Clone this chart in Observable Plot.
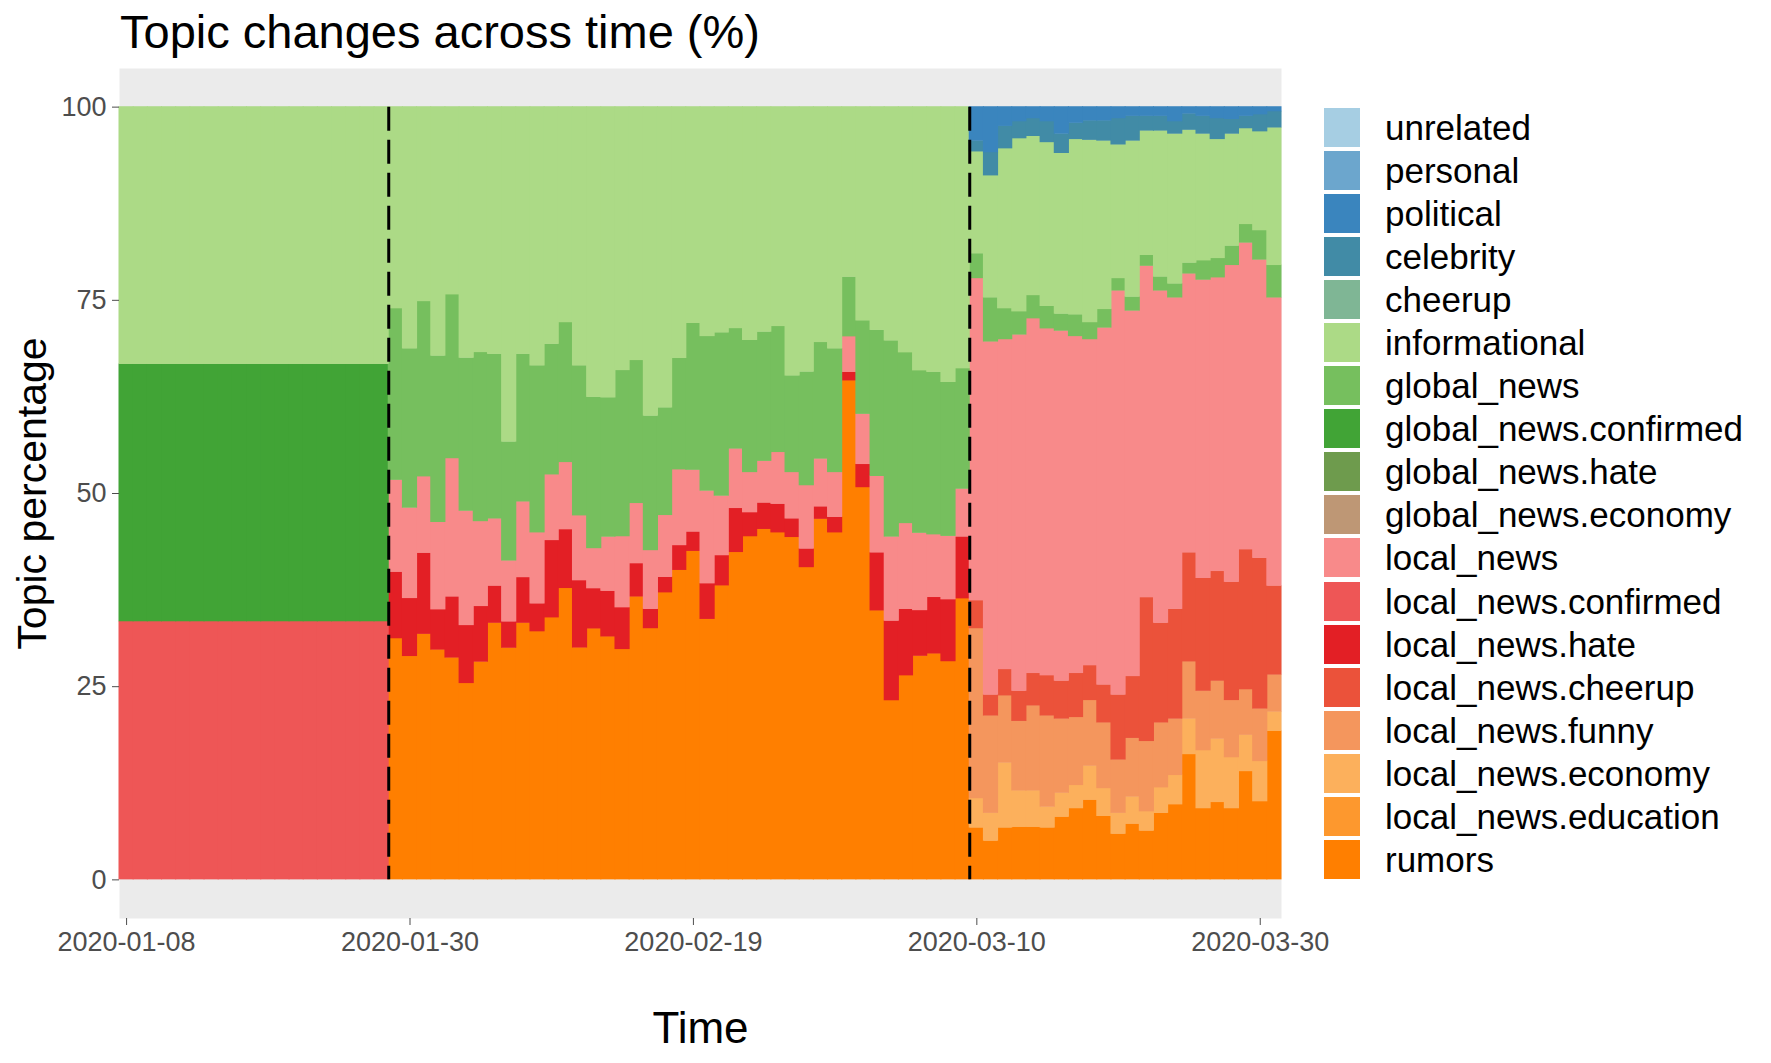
<!DOCTYPE html>
<html>
<head>
<meta charset="utf-8">
<script src="https://cdn.jsdelivr.net/npm/d3@7"></script>
<script src="https://cdn.jsdelivr.net/npm/@observablehq/plot@0.6"></script>
<style>
  body { margin: 0; background: #fff; font-family: "Liberation Sans", Arial, sans-serif; }
  #wrap { position: relative; width: 1771px; height: 1063px; overflow: hidden; background: #fff; }
  #title { position: absolute; left: 120px; top: 4px; font-size: 47px; line-height: 56px; color: #000; white-space: nowrap; }
  #chart { position: absolute; left: 0; top: 62px; }
  #legend { position: absolute; left: 1324px; top: 105.5px; }
  .row { display: flex; align-items: center; height: 43.1px; }
  .sw { width: 36px; height: 39px; }
  .lab { margin-left: 25px; font-size: 35px; color: #000; white-space: nowrap; line-height: 1; }
</style>
</head>
<body>
<div id="wrap">
  <div id="title">Topic changes across time (%)</div>
  <div id="chart"></div>
  <div id="legend"></div>
</div>
<script>
// ---- categories (legend order: top of stack first) ----
const topics = ["unrelated","personal","political","celebrity","cheerup","informational",
  "global_news","global_news.confirmed","global_news.hate","global_news.economy",
  "local_news","local_news.confirmed","local_news.hate","local_news.cheerup",
  "local_news.funny","local_news.economy","local_news.education","rumors"];
const colors = ["#A6CEE3","#6CA6CD","#3A85BE","#418BA6","#7FB695","#ACDA86",
  "#76BF5E","#41A436","#6E9B4D","#BE9775",
  "#F88A8A","#EE5656","#E31F25","#EB523A",
  "#F4965D","#FCB05C","#FD982E","#FF7F00"];

// ---- x categories ----
const seg1Dates = ["2020-01-08","2020-01-09","2020-01-10","2020-01-11","2020-01-13","2020-01-14",
  "2020-01-15","2020-01-16","2020-01-17","2020-01-18","2020-01-20","2020-01-21","2020-01-22",
  "2020-01-23","2020-01-24","2020-01-25","2020-01-26","2020-01-27","2020-01-28"];
const seg2Start = "2020-01-29", seg2Count = 41;
const seg3Start = "2020-03-10", seg3Count = 22;
const xTickLabels = ["2020-01-08","2020-01-30","2020-02-19","2020-03-10","2020-03-30"];
const yTicks = [0, 25, 50, 75, 100];

// ---- segment 1 values (%) ----
const seg1 = {
  "informational":         [33.3,33.3,33.3,33.3,33.3,33.3,33.3,33.3,33.3,33.3,33.3,33.3,33.3,33.3,33.3,33.3,33.3,33.3,33.3],
  "global_news.confirmed": [33.3,33.3,33.3,33.3,33.3,33.3,33.3,33.3,33.3,33.3,33.3,33.3,33.3,33.3,33.3,33.3,33.3,33.3,33.3],
  "local_news.confirmed":  [33.4,33.4,33.4,33.4,33.4,33.4,33.4,33.4,33.4,33.4,33.4,33.4,33.4,33.4,33.4,33.4,33.4,33.4,33.4]
};
// ---- segment 2 values (%) ----
const seg2Rumors = [31.2,28.9,31.8,29.7,28.7,25.4,28.2,33.2,30.0,33.2,32.1,33.9,37.7,30.0,32.5,31.4,29.8,36.6,32.5,37.1,40.0,42.5,33.7,38.0,42.4,44.4,45.3,44.9,44.3,40.4,46.7,44.9,64.5,50.8,34.8,23.2,26.4,28.9,29.2,28.2,36.4];
const seg2Hate   = [8.6,7.5,10.5,5.2,7.9,7.5,7.2,4.8,3.4,5.9,3.6,10.0,7.6,8.7,5.2,5.9,5.4,4.3,2.5,2.0,3.2,2.5,4.6,3.9,5.7,3.1,3.4,3.7,2.4,2.4,1.6,2.0,1.1,3.0,7.5,10.3,8.6,5.9,7.3,8.0,8.0];
const seg2Local  = [11.9,11.7,9.9,11.3,17.9,14.8,11.0,8.7,7.9,9.8,9.2,8.5,8.7,8.4,5.2,7.0,9.2,7.8,7.6,8.0,9.8,8.0,12.0,7.7,7.7,5.2,5.4,6.7,6.0,8.2,6.2,5.8,4.6,6.5,9.9,10.9,11.1,10.0,8.1,8.2,6.2];
const seg2Global = [22.2,20.6,22.7,21.5,21.2,19.8,21.9,21.3,15.4,19.1,21.6,16.9,18.1,19.4,19.6,18.0,21.5,18.5,17.4,13.9,14.4,19.0,20.0,21.1,15.6,17.1,16.7,16.3,12.5,14.7,15.1,16.0,7.7,12.1,18.9,25.4,22.1,21.0,21.0,19.9,15.6];
const seg2Info   = [26.1,31.3,25.2,32.2,24.3,32.5,31.8,32.0,43.4,32.0,33.5,30.7,27.9,33.5,37.6,37.6,34.1,32.8,40.0,38.9,32.5,28.0,29.7,29.2,28.7,30.2,29.1,28.4,34.8,34.3,30.5,31.3,22.0,27.7,28.9,30.3,31.8,34.1,34.3,35.6,33.9];
// ---- segment 3 values (%) ----
const seg3Rumors    = [6.7,5.0,6.7,6.8,6.8,6.7,8.1,9.2,10.3,8.2,5.9,7.2,6.3,8.6,9.7,16.2,9.2,10.0,9.2,14.0,10.1,19.2];
const seg3Economy   = [3.8,3.6,8.4,4.7,4.7,2.7,3.1,3.0,4.4,3.6,2.7,3.5,2.5,3.3,3.8,4.6,7.5,8.2,6.6,4.7,5.2,2.5];
const seg3Funny     = [22.0,12.6,8.7,9.0,11.0,11.8,9.6,8.8,8.5,8.5,6.9,7.6,9.1,8.4,7.3,7.4,7.7,7.5,7.4,5.9,6.8,4.8];
const seg3Cheerup   = [3.6,2.7,3.4,3.9,4.2,5.2,4.9,5.7,4.5,4.9,8.4,8.0,18.6,12.9,14.2,14.1,14.6,14.2,15.3,18.1,19.5,11.5];
const seg3Local     = [41.7,45.7,42.7,46.1,45.9,44.9,45.3,43.6,42.2,46.2,52.3,47.3,42.9,43.0,40.3,36.1,38.6,38.0,41.0,39.7,38.6,37.3];
const seg3Global    = [3.2,5.7,4.0,3.0,3.0,2.9,2.2,2.8,2.2,2.4,1.6,1.8,1.4,1.8,1.8,1.4,2.5,2.5,2.5,2.4,3.8,4.2];
const seg3Info      = [13.2,15.8,20.7,22.4,20.6,21.2,20.8,22.7,23.6,21.8,17.3,20.2,16.1,18.9,19.4,17.2,16.4,15.4,14.5,12.4,12.8,17.8];
const seg3Celebrity = [1.4,3.0,2.9,2.2,2.3,2.7,2.5,2.1,2.5,2.6,3.4,3.2,1.9,1.9,1.6,2.1,2.3,2.7,1.9,1.6,2.2,2.1];
const seg3Political = [4.4,5.9,2.5,1.9,1.5,1.9,3.5,2.1,1.8,1.8,1.5,1.2,1.2,1.2,1.9,0.9,1.2,1.5,1.6,1.2,1.0,0.6];

// ---- build table ----
const fmt = d3.utcFormat("%Y-%m-%d");
const dayList = (start, n) => d3.utcDay.range(new Date(start + "T00:00Z"), d3.utcDay.offset(new Date(start + "T00:00Z"), n)).map(fmt);
const seg2Dates = dayList(seg2Start, seg2Count);
const seg3Dates = dayList(seg3Start, seg3Count);
const allDates = [...seg1Dates, ...seg2Dates, ...seg3Dates];
const boundaries = [seg2Dates[0], seg3Dates[0]];

const seg2 = {"rumors": seg2Rumors, "local_news.hate": seg2Hate, "local_news": seg2Local, "global_news": seg2Global, "informational": seg2Info};
const seg3 = {"rumors": seg3Rumors, "local_news.economy": seg3Economy, "local_news.funny": seg3Funny, "local_news.cheerup": seg3Cheerup,
  "local_news": seg3Local, "global_news": seg3Global, "informational": seg3Info, "celebrity": seg3Celebrity, "political": seg3Political};

const rows = [];
for (const [dates, seg] of [[seg1Dates, seg1], [seg2Dates, seg2], [seg3Dates, seg3]]) {
  dates.forEach((date, i) => {
    for (const [topic, vals] of Object.entries(seg)) rows.push({date, topic, value: vals[i]});
  });
}
const rank = new Map(topics.map((t, i) => [t, topics.length - 1 - i]));
rows.sort((a, b) => rank.get(a.topic) - rank.get(b.topic));

// ---- plot (stack normalized to 0..1, axis labelled in %) ----
const W = 1290, H = 1001, ML = 119, MR = 9;
const bw = (W - ML - MR) / allDates.length;
const chart = Plot.plot({
  width: W, height: H,
  marginLeft: ML, marginRight: MR, marginTop: 6, marginBottom: 145,
  style: {fontFamily: "Liberation Sans, Arial, sans-serif", background: "transparent", overflow: "visible"},
  x: {type: "band", domain: allDates, padding: 0, round: false},
  y: {domain: [-0.05, 1.05]},
  color: {domain: topics, range: colors},
  marks: [
    Plot.frame({fill: "#EBEBEB", stroke: null}),
    Plot.barY(rows, {x: "date", y: "value", fill: "topic", offset: "normalize",
      insetLeft: -0.5, insetRight: -0.5, insetTop: -0.4}),
    Plot.ruleX(boundaries, {x: d => d, y1: 1, y2: 0, dx: -bw / 2, stroke: "black", strokeWidth: 3, strokeDasharray: "24,9"}),
    Plot.axisY({ticks: yTicks.map(t => t / 100), tickFormat: d => String(Math.round(d * 100)),
      tickSize: 7, tickPadding: 6, fontSize: 27, color: "#4D4D4D", label: null}),
    Plot.axisX({ticks: xTickLabels, tickSize: 7, tickPadding: 6, fontSize: 27, color: "#4D4D4D", label: null}),
    Plot.text(["Topic percentage"], {frameAnchor: "left", textAnchor: "middle", dx: -87, rotate: -90, fontSize: 41, fill: "black"}),
    Plot.text(["Time"], {frameAnchor: "bottom", dy: 124, fontSize: 44, fill: "black"})
  ]
});
document.getElementById("chart").appendChild(chart);

// ---- legend ----
const legend = document.getElementById("legend");
topics.forEach((t, i) => {
  const row = document.createElement("div");
  row.className = "row";
  const sw = document.createElement("div");
  sw.className = "sw";
  sw.style.background = colors[i];
  const lab = document.createElement("span");
  lab.className = "lab";
  lab.textContent = t;
  row.appendChild(sw); row.appendChild(lab);
  legend.appendChild(row);
});
</script>
</body>
</html>
